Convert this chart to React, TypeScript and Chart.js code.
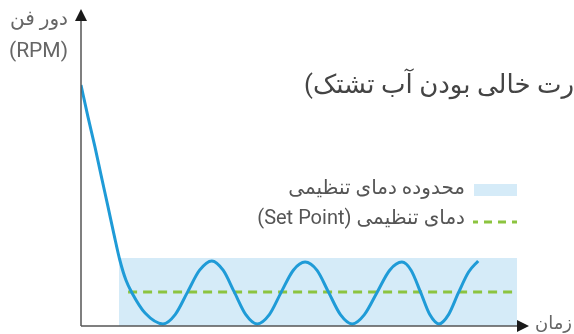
import React, { useEffect, useRef } from "react";
import { Chart, registerables } from "chart.js";

Chart.register(...registerables);

// time (arbitrary units 0..100) and fan speed (arbitrary units 0..100)
const curveTime = [
  0, 1.6, 3.2, 4.6, 6.2, 7.6, 8.9, 10.3, 11.7, 14.7, 18.8,
  21.6, 24.4, 27.2, 30, 32.6, 35.2, 37.8, 40.4,
  43.2, 45.9, 48.7, 51.4, 54.1, 56.8, 59.5, 62.2,
  65.0, 67.9, 70.8, 73.6, 75.7, 77.9, 80.0, 82.1,
  84.3, 86.6, 88.9, 91.1,
];
const curveRpm = [
  80.3, 69.7, 59.7, 50.3, 39.7, 30.3, 22, 15.3, 11, 4.3, 0.7,
  3.8, 11.2, 18.6, 21.7, 18.6, 11.2, 3.8, 0.7,
  3.8, 11.2, 18.6, 21.3, 18.6, 11.2, 3.8, 0.7,
  3.8, 11.2, 18.6, 21.3, 18.6, 11.2, 3.8, 0.7,
  3.8, 11.2, 18.0, 21.7,
];

const bandTime = [8.7, 100];
const bandTop = [22.7, 22.7];

const setPointTime = [10.8, 100];
const setPointRpm = [11.3, 11.3];

const titleText = "رت خالی بودن آب تشتک)";
const yLabel1 = "دور فن";
const yLabel2 = "(RPM)";
const xLabel = "زمان";
const legendBand = "محدوده دمای تنظیمی";
const legendSet = "دمای تنظیمی (Set Point)";

const BLUE = "#1f9bd7";
const BAND = "#d5ebf8";
const GREEN = "#8cc43f";
const FONT = "Roboto, 'Noto Sans', 'DejaVu Sans', sans-serif";

export default function App() {
  const ref = useRef<HTMLCanvasElement>(null);
  useEffect(() => {
    document.body.style.margin = "0";
    const canvas = ref.current!;
    const overlay = {
      id: "overlay",
      afterDraw(chart: any) {
        const ctx = chart.ctx as CanvasRenderingContext2D;
        const xs = chart.scales.x;
        const ys = chart.scales.y;
        const x0 = xs.getPixelForValue(0);
        const y0 = ys.getPixelForValue(0);
        const xEnd = xs.getPixelForValue(100);
        ctx.save();
        // axes
        ctx.strokeStyle = "#555";
        ctx.lineWidth = 1.5;
        ctx.beginPath();
        ctx.moveTo(x0, y0);
        ctx.lineTo(x0, 18);
        ctx.moveTo(x0, y0);
        ctx.lineTo(xEnd + 2, y0);
        ctx.stroke();
        ctx.fillStyle = "#1a1a1a";
        ctx.beginPath();
        ctx.moveTo(x0, 9);
        ctx.lineTo(x0 - 6, 21);
        ctx.lineTo(x0 + 6, 21);
        ctx.closePath();
        ctx.fill();
        ctx.beginPath();
        ctx.moveTo(xEnd + 12, y0);
        ctx.lineTo(xEnd, y0 - 6);
        ctx.lineTo(xEnd, y0 + 6);
        ctx.closePath();
        ctx.fill();

        // texts
        ctx.direction = "rtl";
        ctx.textAlign = "right";
        ctx.textBaseline = "middle";
        ctx.fillStyle = "#444";
        ctx.font = `26px ${FONT}`;
        ctx.fillText(titleText, 574, 86);

        ctx.fillStyle = "#666";
        ctx.font = `20px ${FONT}`;
        ctx.fillText(yLabel1, 68, 20);
        ctx.direction = "ltr";
        ctx.font = `21px ${FONT}`;
        ctx.fillText(yLabel2, 68, 52);
        ctx.direction = "rtl";
        ctx.font = `18px ${FONT}`;
        ctx.fillText(xLabel, 572, 324);

        ctx.fillStyle = "#555";
        ctx.font = `20px ${FONT}`;
        ctx.fillText(legendBand, 465, 189);
        ctx.fillText(legendSet, 465, 219);

        // legend markers
        ctx.fillStyle = BAND;
        ctx.fillRect(474, 184, 43, 12);
        ctx.strokeStyle = GREEN;
        ctx.lineWidth = 3;
        ctx.setLineDash([8, 6]);
        ctx.save();
        ctx.beginPath();
        ctx.rect(473, 215, 44, 14);
        ctx.clip();
        ctx.beginPath();
        ctx.moveTo(470, 222);
        ctx.lineTo(517, 222);
        ctx.stroke();
        ctx.restore();
        ctx.restore();
      },
    };
    const chart = new Chart(canvas, {
      type: "line",
      data: {
        datasets: [
          {
            data: curveTime.map((t, i) => ({ x: t, y: curveRpm[i] })),
            borderColor: BLUE,
            borderWidth: 3,
            pointRadius: 0,
            cubicInterpolationMode: "monotone",
            fill: false,
          },
          {
            data: setPointTime.map((t, i) => ({ x: t, y: setPointRpm[i] })),
            borderColor: GREEN,
            borderWidth: 3,
            borderDash: [9, 6],
            pointRadius: 0,
            fill: false,
          },
          {
            data: bandTime.map((t, i) => ({ x: t, y: bandTop[i] })),
            borderWidth: 0,
            borderColor: "rgba(0,0,0,0)",
            backgroundColor: BAND,
            pointRadius: 0,
            fill: "origin",
          },
        ],
      },
      options: {
        responsive: false,
        animation: false,
        layout: { padding: { left: 81, right: 57, top: 26, bottom: 8 } },
        plugins: { legend: { display: false }, tooltip: { enabled: false }, title: { display: false } },
        scales: {
          x: { type: "linear", min: 0, max: 100, display: false },
          y: { type: "linear", min: 0, max: 100, display: false },
        },
      },
      plugins: [overlay],
    } as any);
    return () => chart.destroy();
  }, []);
  return (
    <div style={{ width: 574, height: 334 }}>
      <canvas ref={ref} width={574} height={334} style={{ display: "block" }} />
    </div>
  );
}
